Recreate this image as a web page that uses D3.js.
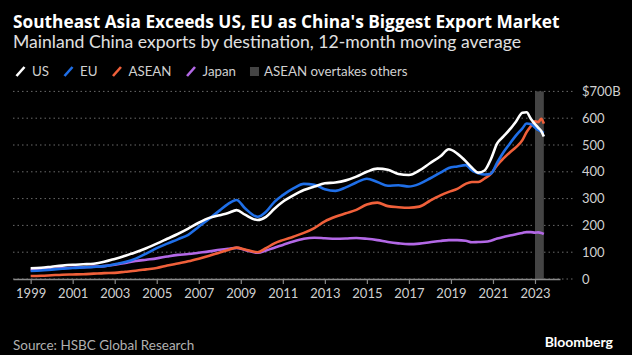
<!DOCTYPE html>
<html>
<head>
<meta charset="utf-8">
<script src="https://cdn.jsdelivr.net/npm/d3@7"></script>
<style>
  html, body { margin: 0; padding: 0; background: #000; }
  svg { display: block; }
  text { font-family: Lato, "Noto Sans", sans-serif; }
</style>
</head>
<body>
<svg id="chart" width="632" height="355"></svg>
<script>
// ---- Data ----
const dates = [1999.0, 1999.5, 2000, 2000.5, 2001, 2001.5, 2002, 2002.5,
  2003, 2003.5, 2004, 2004.5, 2005, 2005.5, 2006, 2006.5, 2007, 2007.5,
  2008, 2008.4, 2008.8, 2009.2, 2009.8, 2010.2, 2010.6, 2011, 2011.5, 2012,
  2012.5, 2013, 2013.5, 2014, 2014.5, 2015, 2015.5, 2016, 2016.5, 2017,
  2017.5, 2018, 2018.5, 2018.9, 2019.3, 2019.7, 2020.0, 2020.3, 2020.6, 2020.9,
  2021.2, 2021.5, 2021.8, 2022.1, 2022.4, 2022.6, 2022.8, 2023.0, 2023.15, 2023.3, 2023.42];

const usValues = [40, 42, 46, 50, 53, 55, 57, 64,
  75, 87, 100, 115, 132, 150, 168, 188, 210, 228,
  238, 246, 257, 240, 220, 232, 262, 288, 312, 332,
  345, 357, 360, 368, 382, 400, 412, 408, 392, 388,
  405, 432, 458, 484, 468, 440, 415, 397, 405, 447,
  506, 532, 558, 588, 620, 622, 598, 578, 565, 552, 532];

const euValues = [30, 32, 35, 38, 41, 43, 45, 48,
  55, 63, 76, 95, 115, 132, 148, 165, 195, 225,
  256, 280, 295, 264, 232, 251, 288, 313, 338, 355,
  352, 335, 329, 342, 360, 374, 362, 348, 350, 345,
  355, 375, 397, 414, 420, 425, 405, 395, 390, 393,
  434, 473, 505, 536, 562, 580, 578, 565, 556, 550, 545];

const aseanValues = [11, 12, 14, 16, 17, 18, 20, 22,
  23, 27, 31, 36, 41, 50, 58, 66, 76, 87,
  99, 108, 117, 110, 100, 115, 133, 145, 158, 172,
  190, 215, 232, 245, 258, 278, 285, 272, 268, 266,
  270, 292, 312, 325, 336, 355, 362, 362, 375, 392,
  425, 450, 472, 492, 518, 548, 570, 588, 585, 598, 580];

const japanValues = [33, 35, 38, 40, 42, 44, 46, 48,
  53, 60, 67, 72, 77, 84, 90, 93, 98, 103,
  109, 113, 116, 108, 98, 106, 117, 127, 140, 150,
  154, 152, 150, 151, 153, 150, 145, 138, 133, 130,
  132, 137, 142, 145, 145, 143, 137, 138, 139, 143,
  151, 157, 162, 167, 172, 175, 175, 173, 174, 172, 168];

const seriesNames = ["US", "EU", "ASEAN", "Japan"];
const seriesColors = ["#ffffff", "#1f6fe8", "#f0603a", "#b368e6"];
const seriesValues = [usValues, euValues, aseanValues, japanValues];

const xTickYears = [1999, 2001, 2003, 2005, 2007, 2009, 2011, 2013, 2015, 2017, 2019, 2021, 2023];
const yTicks = [0, 100, 200, 300, 400, 500, 600, 700];
const shadeRange = [2023.0, 2023.42];

const titleText = "Southeast Asia Exceeds US, EU as China's Biggest Export Market";
const subtitleText = "Mainland China exports by destination, 12-month moving average";
const shadeLabel = "ASEAN overtakes others";
const sourceText = "Source: HSBC Global Research";

// ---- Layout ----
const svg = d3.select("#chart");
svg.append("rect").attr("width", 632).attr("height", 355).attr("fill", "#000");

const x = d3.scaleLinear().domain([1998.16, 2024.19]).range([13, 560]);
const y = d3.scaleLinear().domain([0, 700]).range([279, 91.4]);

// Title / subtitle
svg.append("text").attr("x", 13).attr("y", 27.5)
  .attr("fill", "#fff").attr("font-size", 17.3).attr("font-weight", 700)
  .style("font-family", "'Open Sans', Lato, sans-serif")
  .text(titleText);
svg.append("text").attr("x", 13).attr("y", 47.8)
  .attr("fill", "#e0e0e0").attr("font-size", 17.6)
  .text(subtitleText);

// Legend
const legend = svg.append("g");
let lx = 15;
const ly = 76;
seriesNames.forEach((name, i) => {
  legend.append("line")
    .attr("x1", lx + 1.5).attr("y1", ly)
    .attr("x2", lx + 9.5).attr("y2", ly - 9)
    .attr("stroke", seriesColors[i]).attr("stroke-width", 2.6);
  const t = legend.append("text").attr("x", lx + 17).attr("y", ly)
    .attr("fill", "#d0d0d0").attr("font-size", 13.3).text(name);
  lx = lx + 17 + t.node().getComputedTextLength() + 14;
});
legend.append("rect").attr("x", lx).attr("y", ly - 9).attr("width", 9).attr("height", 9)
  .attr("fill", "#444");
legend.append("text").attr("x", lx + 14).attr("y", ly)
  .attr("fill", "#d0d0d0").attr("font-size", 13.3).text(shadeLabel);

// Gridlines
const grid = svg.append("g");
grid.selectAll("line").data(yTicks).join("line")
  .attr("x1", 13).attr("x2", 574)
  .attr("y1", d => y(d)).attr("y2", d => y(d))
  .attr("stroke", "#6a6a6a").attr("stroke-width", 1)
  .attr("stroke-dasharray", "1.5,3");

// Shaded band
svg.append("rect")
  .attr("x", x(shadeRange[0])).attr("width", x(shadeRange[1]) - x(shadeRange[0]))
  .attr("y", y(700)).attr("height", y(0) - y(700))
  .attr("fill", "#444");

// Y labels (right)
svg.append("g").selectAll("text").data(yTicks).join("text")
  .attr("x", 582).attr("y", d => y(d))
  .attr("dy", "0.35em")
  .attr("fill", "#d0d0d0").attr("font-size", 13)
  .text(d => d === 700 ? "$700B" : d);

// X axis
const xAxis = d3.axisBottom(x).tickValues(xTickYears).tickFormat(d3.format("d"))
  .tickSize(5).tickSizeOuter(0).tickPadding(5);
const gx = svg.append("g").attr("transform", `translate(0,${y(0)})`).call(xAxis);
gx.select(".domain").attr("stroke", "#8a8a8a").attr("stroke-width", 1.5);
gx.selectAll(".tick line").attr("stroke", "#8a8a8a").attr("stroke-width", 1.2);
gx.selectAll(".tick text").attr("fill", "#d0d0d0").attr("font-size", 13);

// Lines (Japan, ASEAN, EU, US order so US on top)
const line = d3.line().x((d, i) => x(dates[i])).y(d => y(d)).curve(d3.curveMonotoneX);
const order = [3, 2, 1, 0];
order.forEach(i => {
  svg.append("path").datum(seriesValues[i])
    .attr("d", line)
    .attr("fill", "none")
    .attr("stroke", seriesColors[i])
    .attr("stroke-width", 2.6)
    .attr("stroke-linejoin", "round");
});

// Footer
svg.append("text").attr("x", 13).attr("y", 350)
  .attr("fill", "#b0b0b0").attr("font-size", 13.5).text(sourceText);
svg.append("text").attr("x", 613).attr("y", 347).attr("text-anchor", "end")
  .attr("fill", "#fff").attr("font-size", 14).attr("font-weight", 700).text("Bloomberg");
</script>
</body>
</html>
